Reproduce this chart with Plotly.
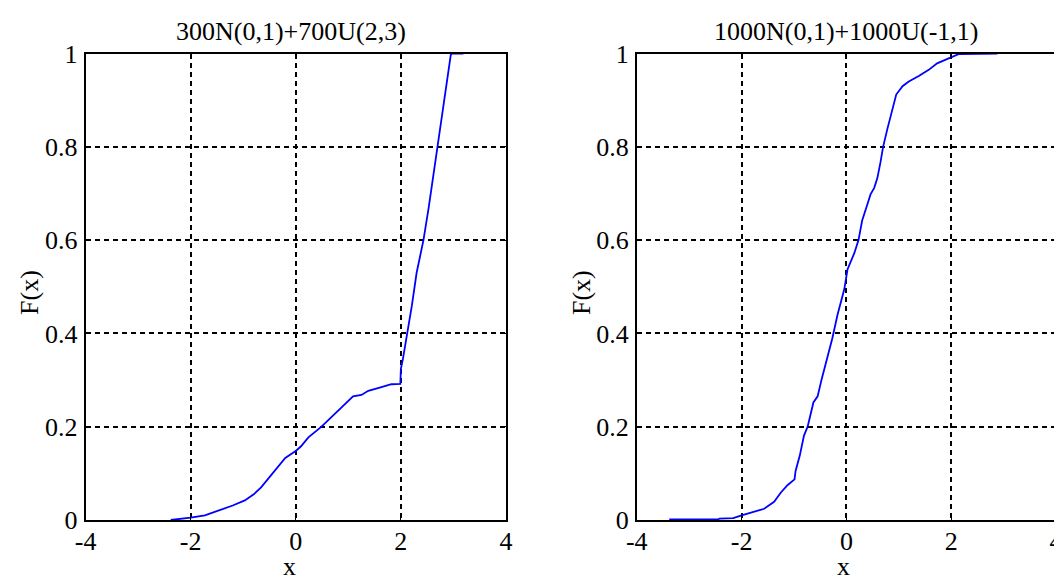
import plotly.graph_objects as go

# ---- data ----
left_title = "300N(0,1)+700U(2,3)"
right_title = "1000N(0,1)+1000U(-1,1)"

left_x = [-2.38, -2.2, -2.0, -1.73, -1.42, -1.2, -0.97, -0.8, -0.66, -0.46, -0.3, -0.2,
          -0.08, 0.0, 0.1, 0.24, 0.49, 0.68, 0.87, 1.09, 1.25, 1.38, 1.63, 1.82, 1.99,
          2.0, 2.04, 2.08, 2.13, 2.21, 2.3, 2.43, 2.53, 2.62, 2.7, 2.78, 2.87, 2.95, 2.97, 3.19]
left_y = [0.0, 0.002, 0.005, 0.01, 0.022, 0.031, 0.042, 0.055, 0.07, 0.097, 0.118, 0.133,
          0.142, 0.148, 0.158, 0.177, 0.2, 0.22, 0.242, 0.265, 0.268, 0.277, 0.285, 0.291, 0.292,
          0.324, 0.346, 0.374, 0.4, 0.46, 0.53, 0.6, 0.67, 0.74, 0.8, 0.865, 0.934, 0.997, 1.0, 1.0]

right_x = [-3.38, -2.45, -2.42, -2.16, -2.0, -1.77, -1.57, -1.38, -1.25, -1.12, -0.99, -0.97,
           -0.89, -0.81, -0.74, -0.63, -0.55, -0.47, -0.37, -0.27, -0.17, -0.04, 0.02, 0.15,
           0.23, 0.3, 0.4, 0.46, 0.53, 0.59, 0.65, 0.7, 0.78, 0.88, 0.95, 1.07, 1.19, 1.38,
           1.57, 1.73, 1.96, 2.15, 2.88]
right_y = [0.001, 0.001, 0.003, 0.004, 0.01, 0.017, 0.024, 0.039, 0.059, 0.075, 0.087, 0.105,
           0.138, 0.181, 0.2, 0.252, 0.265, 0.303, 0.346, 0.389, 0.44, 0.495, 0.537, 0.572,
           0.6, 0.642, 0.677, 0.698, 0.712, 0.733, 0.767, 0.8, 0.838, 0.88, 0.912, 0.93, 0.94, 0.952,
           0.965, 0.979, 0.99, 0.999, 1.0]

x_ticks = [-4, -2, 0, 2, 4]
x_ticktext = ["-4", "-2", "0", "2", "4"]
y_ticks = [0, 0.2, 0.4, 0.6, 0.8, 1]
y_ticktext = ["0", "0.2", "0.4", "0.6", "0.8", "1"]

W, H = 1062, 579
FONT = "Liberation Serif"
FS = 26

# observed mapping of paper fractions to screen pixels in the rendered page
OX, SX = 17.3, 1045.6
OY, SY = 20.3, 553.0

def fx(px):
    return (px - OX) / SX

def fy(py):
    return 1 - (py - OY) / SY

fig = go.Figure()
fig.add_trace(go.Scatter(x=left_x, y=left_y, mode="lines",
                         line=dict(color="#0000ff", width=1.8), xaxis="x", yaxis="y",
                         showlegend=False))
fig.add_trace(go.Scatter(x=right_x, y=right_y, mode="lines",
                         line=dict(color="#0000ff", width=1.8), xaxis="x2", yaxis="y2",
                         showlegend=False))

ydom = [fy(521), fy(52)]
ldom = [fx(84), fx(505)]
rdom = [fx(636), fx(1056)]

def xa(dom, anchor):
    return dict(domain=dom, anchor=anchor, range=[-4, 4], tickvals=x_ticks, ticktext=x_ticktext,
                showgrid=True, gridcolor="black", gridwidth=1.6, griddash="5px,4px",
                showline=True, mirror="ticks", linecolor="black", linewidth=1.8,
                ticks="inside", ticklen=5, tickcolor="black", zeroline=False,
                tickfont=dict(family=FONT, size=FS, color="black"), ticklabelstandoff=-3)

def ya(anchor):
    return dict(domain=ydom, anchor=anchor, range=[0, 1], tickvals=y_ticks, ticktext=y_ticktext,
                showgrid=True, gridcolor="black", gridwidth=1.6, griddash="5px,4px",
                showline=True, mirror="ticks", linecolor="black", linewidth=1.8,
                ticks="inside", ticklen=5, tickcolor="black", zeroline=False,
                tickfont=dict(family=FONT, size=FS, color="black"), ticklabelstandoff=1)

annos = []
for cx, title in [(290, left_title), (846, right_title)]:
    annos.append(dict(text=title, x=fx(cx), y=fy(30), xref="paper", yref="paper",
                      xanchor="center", yanchor="middle", showarrow=False,
                      font=dict(family=FONT, size=FS, color="black")))
for cx in [288, 843]:
    annos.append(dict(text="x", x=fx(cx), y=fy(568), xref="paper", yref="paper",
                      xanchor="center", yanchor="middle", showarrow=False,
                      font=dict(family=FONT, size=FS, color="black")))
for cx in [28, 580]:
    annos.append(dict(text="F(x)", x=fx(cx), y=fy(292), xref="paper", yref="paper",
                      xanchor="center", yanchor="middle", showarrow=False, textangle=-90,
                      font=dict(family=FONT, size=FS, color="black")))

fig.update_layout(
    width=W, height=H, margin=dict(l=0, r=0, t=0, b=0),
    paper_bgcolor="white", plot_bgcolor="white",
    xaxis=xa(ldom, "y"), yaxis=ya("x"),
    xaxis2=xa(rdom, "y2"), yaxis2=ya("x2"),
    annotations=annos,
)

fig.write_html("out.html")
